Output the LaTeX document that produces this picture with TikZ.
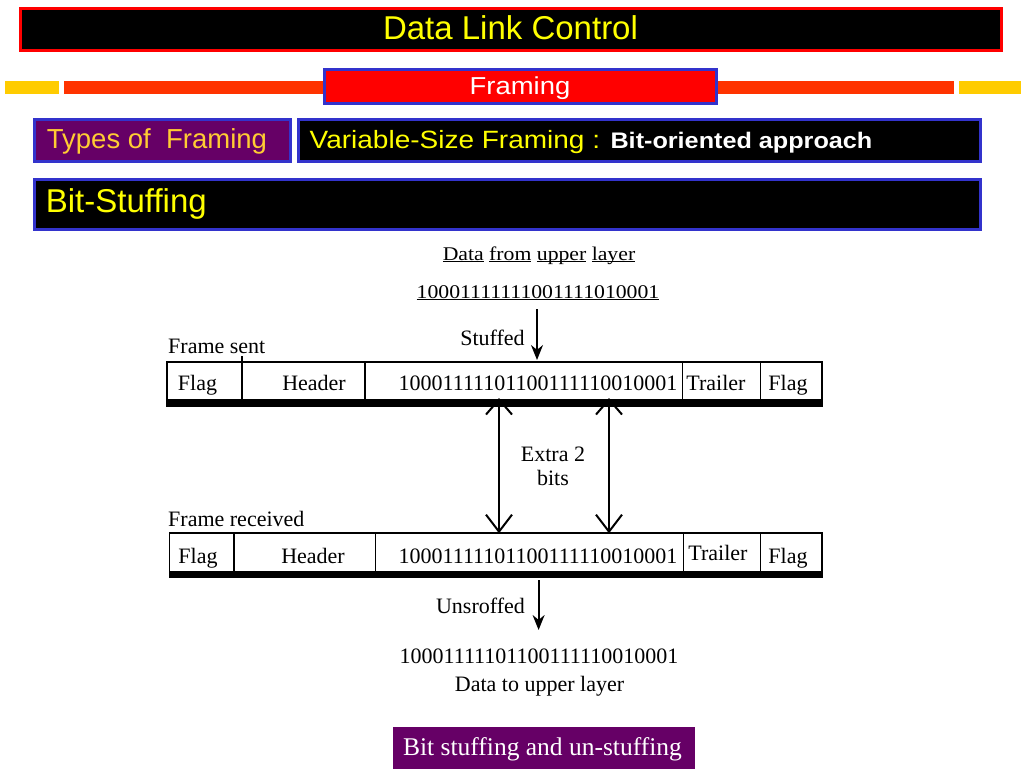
\documentclass[tikz,border=0pt]{standalone}
\usepackage{fontspec}
\setmainfont{Liberation Serif}
\newfontfamily\wideserif{Liberation Serif}[FakeStretch=1.12]
\newfontfamily\hdr{Liberation Sans}
\newfontfamily\hdrw{Liberation Sans}[FakeStretch=1.12]
\usetikzlibrary{arrows.meta}
\definecolor{bordblue}{HTML}{3333CC}
\definecolor{barorange}{HTML}{FF3300}
\definecolor{baryellow}{HTML}{FFCC00}
\definecolor{boxpurple}{HTML}{660066}
\definecolor{txtyellow}{HTML}{FFFF00}
\definecolor{txtgold}{HTML}{FFCC33}
\newcommand\myul[1]{\setbox0\hbox{#1}\rlap{\rule[-2pt]{\wd0}{0.9pt}}\box0\relax}
\begin{document}
\begin{tikzpicture}[x=1pt,y=-1pt,
  txt/.style={inner sep=0pt, anchor=base},
  ser/.style={txt, font=\fontsize{22}{24}\selectfont, text=black},
  wser/.style={txt, font=\wideserif\fontsize{19.4}{22}\selectfont, text=black},
  bluebox/.style={draw=bordblue, line width=3pt, inner sep=0pt},
  frameline/.style={line width=1.8pt},
  downarr/.style={line width=1.8pt, -{Stealth[length=15pt,width=12pt]}},
  dblarr/.style={line width=2pt, {Straight Barb[length=15pt,width=26pt,line width=2pt]}-{Straight Barb[length=17pt,width=26pt,line width=2pt]}}]
\useasboundingbox (0,0) rectangle (1024,768);
\fill[white] (0,0) rectangle (1024,768);

% header
\node[draw=red, line width=3pt, fill=black, minimum width=981pt, minimum height=42pt, inner sep=0pt] (titlebox) at (510.5,29.5) {};
\node[txt, font=\hdr\fontsize{33}{38}\selectfont, text=txtyellow] (titletext) at (510.5,40) {Data Link Control};

\fill[baryellow] (5,80.7) rectangle (59,94.3);
\fill[barorange] (64,80.7) rectangle (954,94.3);
\fill[baryellow] (959,80.7) rectangle (1020.7,94.3);

\node[bluebox, fill=red, minimum width=392pt, minimum height=34pt] (framingbox) at (520.5,86.5) {};
\node[txt, font=\hdrw\fontsize{24.5}{28}\selectfont, text=white] (framingtext) at (520,94) {Framing};

\node[bluebox, fill=boxpurple, minimum width=256pt, minimum height=42pt] (typesbox) at (162.2,140.5) {};
\node[txt, anchor=base west, font=\hdr\fontsize{27.5}{30}\selectfont, text=txtgold] (typestext) at (46.7,148) {Types of\ \ Framing};

\node[bluebox, fill=black, minimum width=681.7pt, minimum height=42pt] (varbox) at (639.6,140.5) {};
\node[txt, anchor=base west, font=\hdrw\fontsize{25}{28}\selectfont, text=txtyellow] (vartext) at (309.5,148) {Variable-Size Framing : {\color{white}\bfseries\fontsize{22.5}{26}\selectfont Bit-oriented approach}};

\node[bluebox, fill=black, minimum width=946.3pt, minimum height=50pt] (bsbox) at (507.3,204.5) {};
\node[txt, anchor=base west, font=\hdr\fontsize{33}{38}\selectfont, text=txtyellow] (bstext) at (45.7,212.7) {Bit-Stuffing};

% top data
\node[wser] (dfu) at (539,260) {\myul{Data} \myul{from} \myul{upper} \myul{layer}};
\node[wser] (topbits) at (538,298.3) {\myul{10001111111001111010001}};

\coordinate (st1) at (537,309);
\coordinate (st2) at (537,360);
\draw[downarr] (st1) -- (st2);
\node[ser] (stuffed) at (492.5,345) {Stuffed};

% frame sent
\node[ser, anchor=base west] (fsent) at (168,353) {Frame sent};
\draw[frameline] (167,362) rectangle (822,400);
\fill (166,398.5) rectangle (823,407);
\draw[frameline] (242,356) -- (242,400) (365,362) -- (365,400) (682.5,362) -- (682.5,400) (760.5,362) -- (760.5,400);
\node[ser] (s1) at (197.5,390) {Flag};
\node[ser] (s2) at (314,390) {Header};
\node[ser] (s3) at (538,390) {10001111101100111110010001};
\node[ser] (s4) at (716,390) {Trailer};
\node[ser] (s5) at (788,390) {Flag};

% extra bits arrows
\coordinate (ua) at (499,398);
\coordinate (ub) at (499,533.3);
\coordinate (va) at (609,398);
\coordinate (vb) at (609,533.3);
\draw[dblarr] (ua) -- (ub);
\draw[dblarr] (va) -- (vb);
\node[ser] (extra) at (553,461.7) {Extra 2};
\node[ser] (bitslbl) at (553,485) {bits};

% frame received
\node[ser, anchor=base west] (frecv) at (168,526.7) {Frame received};
\draw[frameline] (169.5,533.3) rectangle (822,573);
\fill (168.6,571) rectangle (823,578);
\draw[frameline] (234,533.3) -- (234,573) (375.5,533.3) -- (375.5,573) (683.5,533.3) -- (683.5,573) (760.5,533.3) -- (760.5,573);
\node[ser] (r1) at (198,563) {Flag};
\node[ser] (r2) at (313,563) {Header};
\node[ser] (r3) at (538,563) {10001111101100111110010001};
\node[ser] (r4) at (718,560) {Trailer};
\node[ser] (r5) at (788,563) {Flag};

\coordinate (un1) at (538.6,580);
\coordinate (un2) at (538.6,630);
\draw[downarr] (un1) -- (un2);
\node[ser] (unst) at (480.5,613) {Unsroffed};

\node[ser] (botbits) at (539,663) {10001111101100111110010001};
\node[ser] (dtu) at (539.5,691.7) {Data to upper layer};

% caption
\node[fill=boxpurple, minimum width=302.3pt, minimum height=44pt, inner sep=0pt] (capbox) at (543.8,748.7) {};
\node[txt, font=\fontsize{25.5}{28}\selectfont, text=white] (captext) at (542.5,755) {Bit stuffing and un-stuffing};
\end{tikzpicture}
\end{document}
